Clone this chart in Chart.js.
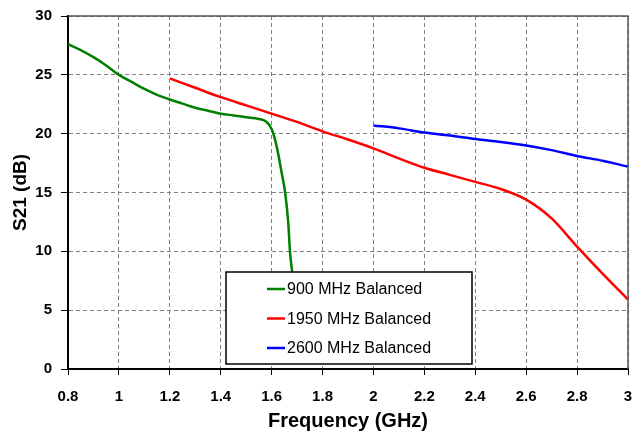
<!DOCTYPE html>
<html>
<head>
<meta charset="utf-8">
<script src="https://cdn.jsdelivr.net/npm/chart.js@4.4.1/dist/chart.umd.min.js"></script>
<style>
  html, body { margin: 0; padding: 0; background: #fff; }
  #wrap { width: 634px; height: 436px; }
</style>
</head>
<body>
<div id="wrap"><canvas id="s21Chart" width="634" height="436"></canvas></div>
<script>
// ===== S21 vs frequency, three balanced filters =====
const seriesNames = ["900 MHz Balanced", "1950 MHz Balanced", "2600 MHz Balanced"];
const seriesColors = ["#008000", "#ff0000", "#0000ff"];

const freq900 = [0.8, 0.85, 0.9, 0.95, 1.0, 1.05, 1.1, 1.15, 1.2, 1.25, 1.3, 1.35, 1.4, 1.45, 1.5, 1.55, 1.58, 1.6, 1.62, 1.64, 1.653, 1.665, 1.672, 1.681];
const s21_900  = [27.6, 27.1, 26.5, 25.8, 25.0, 24.4, 23.8, 23.3, 22.9, 22.55, 22.2, 21.95, 21.7, 21.55, 21.4, 21.25, 21.0, 20.4, 18.9, 16.6, 15.0, 12.5, 10.0, 8.2];

const freq1950 = [1.2, 1.3, 1.4, 1.5, 1.6, 1.7, 1.8, 1.9, 2.0, 2.1, 2.2, 2.3, 2.4, 2.5, 2.6, 2.7, 2.8, 2.9, 3.0];
const s21_1950 = [24.7, 23.9, 23.1, 22.4, 21.7, 21.0, 20.2, 19.5, 18.75, 17.9, 17.1, 16.5, 15.9, 15.3, 14.4, 12.8, 10.4, 8.1, 5.9];

const freq2600 = [2.0, 2.1, 2.2, 2.3, 2.4, 2.5, 2.6, 2.7, 2.8, 2.9, 3.0];
const s21_2600 = [20.7, 20.45, 20.1, 19.85, 19.55, 19.3, 19.0, 18.6, 18.1, 17.7, 17.2];

const xMin = 0.8, xMax = 3, xStep = 0.2;
const yMin = 0, yMax = 30, yStep = 5;

const pts = (xs, ys) => xs.map((x, i) => ({ x: x, y: ys[i] }));
const seriesData = [pts(freq900, s21_900), pts(freq1950, s21_1950), pts(freq2600, s21_2600)];

const FONT = "'Liberation Sans', Arial, sans-serif";

// grey frame on top / right, like the spreadsheet plot area
const frameLines = {
  id: "frameLines",
  afterDatasetsDraw(chart) {
    const { ctx, chartArea: a } = chart;
    ctx.save();
    ctx.strokeStyle = "#555";
    ctx.lineWidth = 1.5;
    ctx.beginPath();
    ctx.moveTo(a.left, a.top);
    ctx.lineTo(a.right, a.top);
    ctx.lineTo(a.right, a.bottom);
    ctx.stroke();
    ctx.restore();
  }
};

// boxed legend inside the plot
const boxLegend = {
  id: "boxLegend",
  afterDatasetsDraw(chart) {
    const ctx = chart.ctx;
    const bx = 226, by = 272, bw = 246, bh = 92;
    ctx.save();
    ctx.fillStyle = "#fff";
    ctx.fillRect(bx, by, bw, bh);
    ctx.strokeStyle = "#000";
    ctx.lineWidth = 1.5;
    ctx.strokeRect(bx, by, bw, bh);
    ctx.font = "16px " + FONT;
    ctx.textBaseline = "middle";
    ctx.fillStyle = "#000";
    chart.data.datasets.forEach((ds, i) => {
      const y = by + 17 + i * 29.5;
      ctx.strokeStyle = ds.borderColor;
      ctx.lineWidth = 2.5;
      ctx.beginPath();
      ctx.moveTo(bx + 41, y);
      ctx.lineTo(bx + 59, y);
      ctx.stroke();
      ctx.fillText(ds.label, bx + 61, y + 1);
    });
    ctx.restore();
  }
};

const ctx = document.getElementById("s21Chart");
new Chart(ctx, {
  type: "line",
  data: {
    datasets: seriesData.map((d, i) => ({
      label: seriesNames[i],
      data: d,
      borderColor: seriesColors[i],
      backgroundColor: seriesColors[i],
      borderWidth: 2.5,
      pointRadius: 0,
      cubicInterpolationMode: "monotone",
      fill: false
    }))
  },
  options: {
    responsive: false,
    animation: false,
    layout: { padding: { left: 0, right: 6, top: 16, bottom: 0 } },
    plugins: { legend: { display: false }, tooltip: { enabled: false } },
    scales: {
      x: {
        type: "linear",
        min: xMin, max: xMax,
        afterFit: s => { s.height = 67; s.paddingLeft = 0; s.paddingRight = 0; },
        ticks: {
          stepSize: xStep,
          color: "#000",
          padding: 13,
          font: { family: FONT, size: 15, weight: "bold" },
          callback: v => String(+v.toFixed(1))
        },
        grid: { color: "#808080", lineWidth: 1, tickColor: "#000", tickLength: 6 },
        border: { color: "#000", width: 2, dash: [4, 3] },
        title: {
          display: true, text: "Frequency (GHz)", color: "#000",
          font: { family: FONT, size: 20, weight: "bold" },
          padding: { top: 0, bottom: 3 }
        }
      },
      y: {
        min: yMin, max: yMax,
        afterFit: s => { s.width = 68; s.paddingTop = 0; s.paddingBottom = 0; },
        ticks: {
          stepSize: yStep,
          color: "#000",
          padding: 9,
          font: { family: FONT, size: 15, weight: "bold" }
        },
        grid: { color: "#808080", lineWidth: 1, tickColor: "#000", tickLength: 7 },
        border: { color: "#000", width: 2, dash: [4, 3] },
        title: {
          display: true, text: "S21 (dB)", color: "#000",
          font: { family: FONT, size: 19, weight: "bold" },
          padding: { top: 9, bottom: 0 }
        }
      }
    }
  },
  plugins: [frameLines, boxLegend]
});
</script>
</body>
</html>
